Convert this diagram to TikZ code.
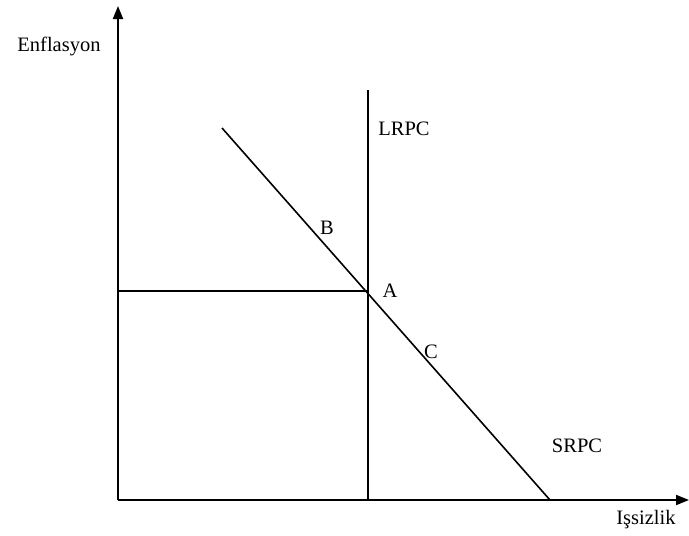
\documentclass[tikz,border=0pt]{standalone}
\usepackage{fontspec}
\setmainfont{Liberation Serif}
\usetikzlibrary{arrows.meta}
\begin{document}
\begin{tikzpicture}[x=1pt,y=-1pt,
  axis/.style={line width=2pt,-{Triangle[length=13pt,width=10pt]}},
  ln/.style={line width=1.6pt},
  lbl/.style={font=\fontsize{20.5}{22}\selectfont,inner sep=0pt}]
\useasboundingbox (0,0) rectangle (689,536);
\coordinate (O) at (118,500);
\coordinate (ytip) at (118,6);
\coordinate (xtip) at (689,500);
\draw[axis] (O) -- (ytip);
\draw[axis] (O) -- (xtip);
\coordinate (Ltop) at (368,90);
\coordinate (Lbot) at (368,500);
\coordinate (Hl) at (118,291);
\coordinate (A) at (368,291);
\coordinate (S1) at (222,128);
\coordinate (S2) at (550,500);
\draw[ln] (Lbot) -- (Ltop);
\draw[ln] (Hl) -- (A);
\draw[ln] (S1) -- (S2);
\node[lbl] (en) at (59,46) {Enflasyon};
\node[lbl] (is) at (646,520) {Işsizlik};
\node[lbl] (lr) at (404,129) {LRPC};
\node[lbl] (sr) at (577,446) {SRPC};
\node[lbl] (B) at (327,228) {B};
\node[lbl] (Al) at (390,291) {A};
\node[lbl] (C) at (431,352) {C};
\end{tikzpicture}
\end{document}
